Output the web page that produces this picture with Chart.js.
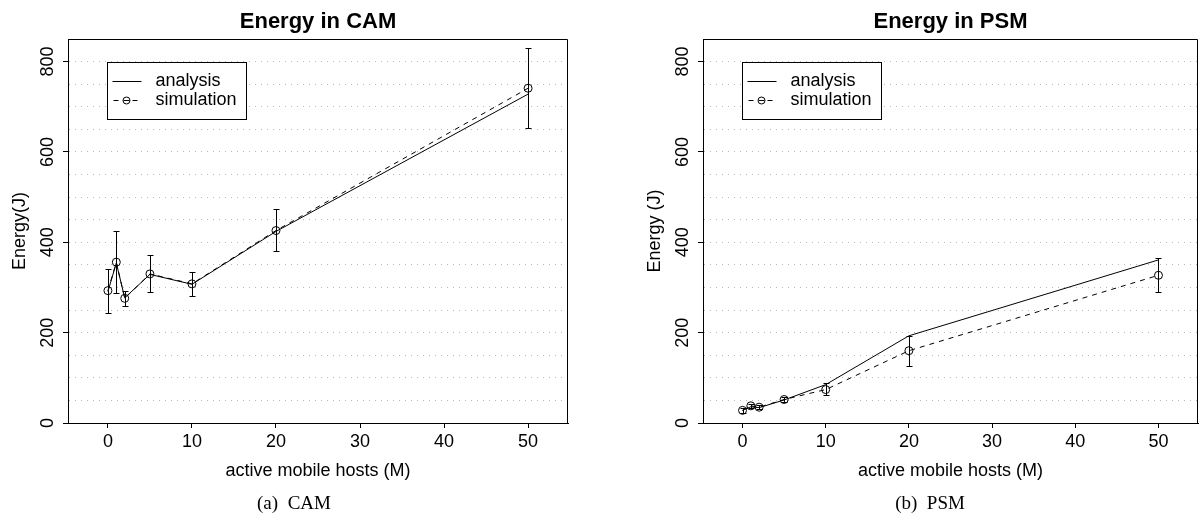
<!DOCTYPE html>
<html>
<head>
<meta charset="UTF-8">
<title>Energy in CAM / PSM</title>
<script src="https://cdn.jsdelivr.net/npm/chart.js@4.4.0/dist/chart.umd.min.js"></script>
<style>
  html, body { margin: 0; padding: 0; background: #fff; }
  body { width: 1203px; height: 521px; position: relative; overflow: hidden; }
  .panel { position: absolute; top: 0; height: 521px; }
  #camWrap { left: 0; width: 600px; }
  #psmWrap { left: 600px; width: 603px; }
  .caption {
    position: absolute; top: 491px; width: 200px; text-align: center;
    font: 19px 'Liberation Serif', 'Times New Roman', serif; color: #000;
    line-height: 24px; white-space: pre;
  }
  #capA { left: 194px; }
  #capB { left: 830px; }
</style>
</head>
<body>
<div class="panel" id="camWrap"><canvas id="cam" width="600" height="521"></canvas></div>
<div class="panel" id="psmWrap"><canvas id="psm" width="603" height="521"></canvas></div>
<div class="caption" id="capA">(a)  CAM</div>
<div class="caption" id="capB">(b)  PSM</div>
<script>
// x = active mobile hosts (M)
const hosts = [0, 1, 2, 5, 10, 20, 50];
const xTicks = [0, 10, 20, 30, 40, 50];
const yLabelTicks = [0, 200, 400, 600, 800];
const yGridTicks = [0, 50, 100, 150, 200, 250, 300, 350, 400, 450, 500, 550, 600, 650, 700, 750, 800];

// CAM panel
const camAnalysis = [291, 354, 277, 329, 307, 424, 728];
const camSim = [293, 356, 276, 330, 308, 426, 741];
const camSimLow = [244, 288, 260, 289, 282, 381, 653];
const camSimHigh = [341, 424, 293, 372, 334, 473, 830];

// PSM panel
const psmAnalysis = [28, 36, 34, 51, 85, 193, 361];
const psmSim = [28, 38, 35, 52, 74, 160, 327];
const psmSimLow = [23, 33, 31, 47, 61, 126, 289];
const psmSimHigh = [33, 43, 39, 57, 88, 193, 366];

const SANS = "'Liberation Sans', Arial, Helvetica, sans-serif";
Chart.defaults.font.family = SANS;
Chart.defaults.color = '#000';

const pts = (ys) => hosts.map((x, i) => ({ x, y: ys[i] }));

// vertical error bars on the simulation points
function errorBars(low, high) {
  return {
    id: 'errorBars',
    afterDatasetsDraw(chart) {
      const { ctx, scales: { x, y } } = chart;
      ctx.save();
      ctx.strokeStyle = '#000';
      ctx.lineWidth = 1;
      low.forEach((lo, i) => {
        const px = Math.round(x.getPixelForValue(hosts[i])) + 0.5;
        const y1 = Math.round(y.getPixelForValue(lo)) + 0.5;
        const y2 = Math.round(y.getPixelForValue(high[i])) + 0.5;
        ctx.beginPath();
        ctx.moveTo(px, y1); ctx.lineTo(px, y2);
        ctx.moveTo(px - 3, y1); ctx.lineTo(px + 3, y1);
        ctx.moveTo(px - 3, y2); ctx.lineTo(px + 3, y2);
        ctx.stroke();
      });
      ctx.restore();
    }
  };
}

// R style box + legend placed at (0, 800)
const boxAndLegend = {
  id: 'boxAndLegend',
  afterDraw(chart) {
    const { ctx, chartArea: a, scales: { x, y } } = chart;
    ctx.save();
    ctx.strokeStyle = '#000';
    ctx.lineWidth = 1;
    ctx.beginPath();
    ctx.moveTo(Math.round(a.left) + 0.5, Math.round(a.top) + 0.5);
    ctx.lineTo(Math.round(a.right) - 0.5, Math.round(a.top) + 0.5);
    ctx.lineTo(Math.round(a.right) - 0.5, Math.round(a.bottom) + 0.5);
    ctx.stroke();

    const lx = Math.round(x.getPixelForValue(0)) - 0.5;
    const ly = Math.round(y.getPixelForValue(800)) + 0.5;
    const w = 139, h = 57;
    ctx.fillStyle = '#fff';
    ctx.fillRect(lx, ly, w, h);
    ctx.strokeRect(lx, ly, w, h);

    const r1 = ly + 19, r2 = ly + 38;
    ctx.beginPath();
    ctx.moveTo(lx + 5, r1); ctx.lineTo(lx + 34, r1);
    ctx.moveTo(lx + 6, r2); ctx.lineTo(lx + 11, r2);
    ctx.moveTo(lx + 16, r2); ctx.lineTo(lx + 22, r2);
    ctx.moveTo(lx + 25, r2); ctx.lineTo(lx + 30, r2);
    ctx.stroke();
    ctx.beginPath();
    ctx.arc(lx + 19, r2, 3.5, 0, Math.PI * 2);
    ctx.stroke();

    ctx.fillStyle = '#000';
    ctx.font = '18px ' + SANS;
    ctx.textBaseline = 'middle';
    ctx.textAlign = 'left';
    ctx.fillText('analysis', lx + 48, r1);
    ctx.fillText('simulation', lx + 48, r2);
    ctx.restore();
  }
};

function makeChart(id, o) {
  return new Chart(document.getElementById(id), {
    type: 'line',
    data: {
      datasets: [
        {
          label: 'analysis',
          data: pts(o.analysis),
          borderColor: '#000',
          borderWidth: 1,
          pointRadius: 0,
          tension: 0,
          fill: false
        },
        {
          label: 'simulation',
          data: pts(o.sim),
          borderColor: '#000',
          borderWidth: 1,
          borderDash: [5, 5],
          pointRadius: 4,
          pointStyle: 'circle',
          pointBackgroundColor: 'rgba(0,0,0,0)',
          pointBorderColor: '#000',
          pointBorderWidth: 1,
          tension: 0,
          fill: false
        }
      ]
    },
    options: {
      responsive: false,
      devicePixelRatio: 1,
      animation: false,
      events: [],
      layout: { padding: { left: 0, top: 0, right: o.padRight, bottom: 38 } },
      plugins: {
        legend: { display: false },
        tooltip: { enabled: false }
      },
      scales: {
        // top axis only carries the plot title, centred over the plot region
        top: {
          type: 'linear',
          position: 'top',
          min: -4.75,
          max: 54.75,
          afterFit: (s) => { s.height = 39; },
          ticks: { display: false },
          grid: { display: false, drawTicks: false },
          border: { display: false },
          title: {
            display: true,
            text: o.title,
            font: { size: 22, weight: 'bold' },
            padding: { top: 8.8, bottom: 0 }
          }
        },
        x: {
          type: 'linear',
          position: 'bottom',
          min: -4.75,
          max: 54.75,
          afterBuildTicks: (s) => { s.ticks = xTicks.map((v) => ({ value: v })); },
          afterFit: (s) => { s.height = 60; },
          ticks: { font: { size: 18 }, padding: 3, maxRotation: 0, autoSkip: false },
          grid: { drawOnChartArea: false, tickLength: 5, tickColor: '#000' },
          border: { color: '#000', width: 1 },
          title: {
            display: true,
            text: 'active mobile hosts (M)',
            font: { size: 18 },
            padding: { top: 0, bottom: 1.2 }
          }
        },
        y: {
          type: 'linear',
          min: 0,
          max: 850,
          afterBuildTicks: (s) => { s.ticks = yGridTicks.map((v) => ({ value: v })); },
          afterFit: (s) => { s.width = o.yWidth; },
          ticks: {
            font: { size: 18 },
            padding: 0,
            autoSkip: false,
            minRotation: 90,
            maxRotation: 90,
            crossAlign: 'center',
            callback: (v) => (yLabelTicks.includes(v) ? String(v) : '')
          },
          grid: {
            tickLength: 5,
            color: (c) => (c.tick && c.tick.value === 0 ? 'rgba(0,0,0,0)' : '#b8b8b8'),
            tickColor: (c) => (c.tick && yLabelTicks.includes(c.tick.value) ? '#000' : 'rgba(0,0,0,0)')
          },
          border: { color: '#000', width: 1, dash: [1, 5] },
          title: {
            display: true,
            text: o.yTitle,
            font: { size: 18 },
            padding: { top: o.yTitlePad, bottom: 0 }
          }
        }
      }
    },
    plugins: [errorBars(o.low, o.high), boxAndLegend]
  });
}

makeChart('cam', {
  title: 'Energy in CAM',
  yTitle: 'Energy(J)',
  analysis: camAnalysis,
  sim: camSim,
  low: camSimLow,
  high: camSimHigh,
  yWidth: 68,
  yTitlePad: 9,
  padRight: 32
});

makeChart('psm', {
  title: 'Energy in PSM',
  yTitle: 'Energy (J)',
  analysis: psmAnalysis,
  sim: psmSim,
  low: psmSimLow,
  high: psmSimHigh,
  yWidth: 103,
  yTitlePad: 44,
  padRight: 1
});
</script>
</body>
</html>
